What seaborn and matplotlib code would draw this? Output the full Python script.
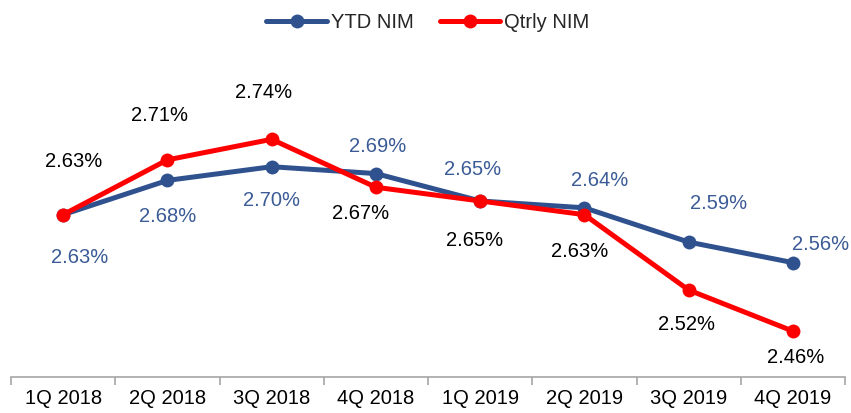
import numpy as np
import pandas as pd
import matplotlib
matplotlib.use('Agg')
import matplotlib.pyplot as plt
import seaborn as sns

# podaci s grafa
quarters = ['1Q 2018', '2Q 2018', '3Q 2018', '4Q 2018', '1Q 2019', '2Q 2019', '3Q 2019', '4Q 2019']
ytd_nim = [2.63, 2.68, 2.70, 2.69, 2.65, 2.64, 2.59, 2.56]
qtrly_nim = [2.63, 2.71, 2.74, 2.67, 2.65, 2.63, 2.52, 2.46]

# pomaci oznaka (px) - rucno
ytd_off = [(17, -43), (0, -36), (0, -34), (2, 27), (-8, 31), (15, 27), (30, 39), (28, 18)]
qtrly_off = [(11, 53), (-8, 44), (-8, 47), (-15, -26), (-6, -40), (-5, -37), (-2, -34), (3, -26)]

sns.set_style('white')
plt.rcParams['font.family'] = ['Liberation Sans', 'DejaVu Sans']

blue = '#2F528F'
red = '#FF0000'

df = pd.DataFrame({'quarter': quarters * 2,
                   'nim': ytd_nim + qtrly_nim,
                   'series': ['YTD NIM'] * 8 + ['Qtrly NIM'] * 8})

fig = plt.figure(figsize=(8.51, 4.13), dpi=100)
ax = fig.add_axes([11 / 851, 36 / 413, 834 / 851, 337 / 413])

sns.lineplot(data=df, x='quarter', y='nim', hue='series', palette={'YTD NIM': blue, 'Qtrly NIM': red},
             marker='o', markersize=10, markeredgewidth=0, linewidth=3.6, sort=False, ax=ax)

fs = 14.5
for i in range(len(quarters)):
    ax.annotate(f'{ytd_nim[i]:.2f}%', (i, ytd_nim[i]), xytext=(ytd_off[i][0] * 0.72, ytd_off[i][1] * 0.72),
                textcoords='offset points', ha='center', va='center', fontsize=fs, color='#3B5B96')
    ax.annotate(f'{qtrly_nim[i]:.2f}%', (i, qtrly_nim[i]), xytext=(qtrly_off[i][0] * 0.72, qtrly_off[i][1] * 0.72),
                textcoords='offset points', ha='center', va='center', fontsize=fs, color='black')

ax.set_xlim(-0.5, 7.5)
ax.set_ylim(2.393, 2.885)
ax.set_xlabel('')
ax.set_ylabel('')
ax.set_yticks([])
for s in ['top', 'right', 'left']:
    ax.spines[s].set_visible(False)
ax.spines['bottom'].set_color('#A6A6A6')
ax.spines['bottom'].set_linewidth(1.2)
ax.set_xticks(np.arange(-0.5, 8, 1), minor=True)
ax.tick_params(axis='x', which='minor', bottom=True, length=6, color='#A6A6A6', width=1.2, direction='out')
ax.tick_params(axis='x', which='major', length=0, labelsize=fs, pad=9, labelcolor='black')

handles, labels = ax.get_legend_handles_labels()
ax.legend(handles, labels, loc='upper center', bbox_to_anchor=(0.5, 1.135), ncol=2, frameon=False,
          fontsize=fs, handlelength=3.0, columnspacing=1.3, handletextpad=0.2)

fig.savefig('out.png', dpi=100)
